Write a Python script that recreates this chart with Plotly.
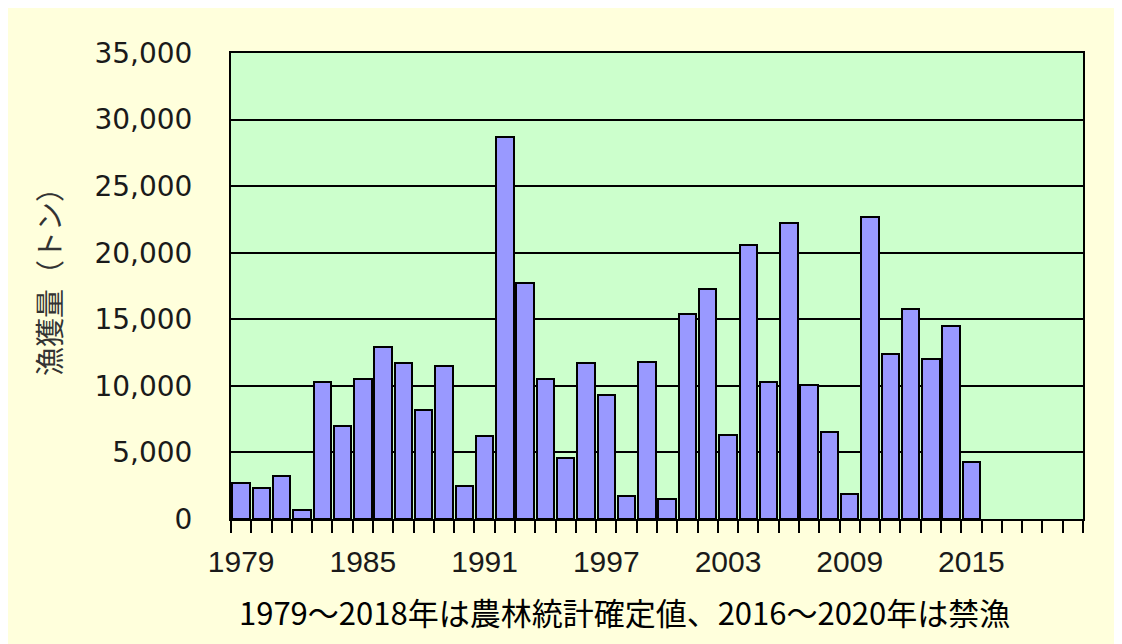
import plotly.graph_objects as go

years = list(range(1979, 2021))
catch_tons = [2700, 2300, 3200, 700, 10300, 7000, 10500, 12900, 11700, 8200,
              11500, 2500, 6200, 28700, 17700, 10500, 4600, 11700, 9300, 1700,
              11800, 1500, 15400, 17300, 6300, 20600, 10300, 22200, 10100, 6500,
              1900, 22700, 12400, 15800, 12000, 14500, 4300,
              None, None, None, None, None]
label_years = [1979, 1985, 1991, 1997, 2003, 2009, 2015]
y_ticks = [0, 5000, 10000, 15000, 20000, 25000, 30000, 35000]
y_title = "漁獲量（トン）"
caption = "1979〜2018年は農林統計確定値、2016〜2020年は禁漁"

# page has an 8px body margin; work in page pixel coordinates
OFF = 8
W, H = 1122 - OFF, 644 - OFF
L, R, T, B = 231 - OFF, 1083 - OFF, 53 - OFF, 519 - OFF

fig = go.Figure()
fig.add_trace(go.Bar(
    x=years, y=catch_tons, width=0.86,
    marker=dict(color="#9999FF", line=dict(color="#000000", width=2)),
    showlegend=False,
))


def px_x(p):
    return (p - OFF - L) / (R - L)


def px_y(p):
    return (B - (p - OFF)) / (B - T)


fig.update_layout(
    width=W, height=H,
    margin=dict(l=L, r=W - R, t=T, b=H - B, pad=0),
    paper_bgcolor="#FFFFDC",
    plot_bgcolor="#CCFFCC",
    bargap=0,
    xaxis=dict(
        range=[1978.5, 2020.5],
        tickvals=label_years,
        ticktext=[str(v) for v in label_years],
        ticks="",
        ticklabelstandoff=15,
        minor=dict(ticks="outside", tick0=1978.5, dtick=1, ticklen=12,
                   tickwidth=2, tickcolor="#000000", showgrid=False),
        showgrid=False,
        showline=True, linecolor="#000000", linewidth=2, mirror=True,
        tickfont=dict(family="Liberation Sans, Arial", size=30, color="#1a1a1a"),
        zeroline=False,
    ),
    yaxis=dict(
        range=[0, 35000],
        tickvals=y_ticks,
        tickformat=",",
        ticks="",
        ticklabelstandoff=31,
        showgrid=True, gridcolor="#000000", gridwidth=2,
        showline=True, linecolor="#000000", linewidth=2, mirror=True,
        tickfont=dict(family="DejaVu Sans", size=28, color="#1a1a1a"),
        zeroline=False,
    ),
    annotations=[
        dict(text=y_title, xref="paper", yref="paper",
             x=px_x(48), y=px_y(275), showarrow=False, textangle=-90,
             xanchor="center", yanchor="middle",
             font=dict(family="Noto Sans CJK JP", size=29, color="#333333")),
        dict(text=caption, xref="paper", yref="paper",
             x=px_x(624), y=px_y(611), showarrow=False,
             xanchor="center", yanchor="middle",
             font=dict(family="Noto Sans CJK JP", size=31, color="#000000")),
    ],
)

fig.write_html("out.html")
